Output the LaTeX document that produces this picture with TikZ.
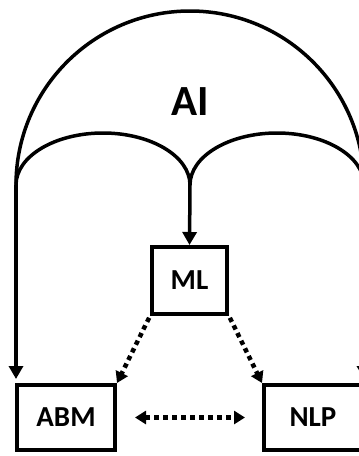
\documentclass[tikz,border=0pt]{standalone}
\usepackage{fontspec}
\setmainfont{Carlito}
\usetikzlibrary{arrows.meta}
\tikzset{
  boxnode/.style={draw, line width=4pt, font=\fontsize{29}{31}\selectfont\bfseries, inner sep=0pt},
  archline/.style={line width=3.5pt},
  solidarr/.style={line width=3.5pt, -{Triangle[width=14pt,length=13pt]}},
  dotarr/.style={line width=4.5pt, dash pattern=on 4.5pt off 4pt, -{Triangle[width=13pt,length=11pt]}},
  dotbiarr/.style={line width=4.5pt, dash pattern=on 4.5pt off 4.5pt, {Triangle[width=13pt,length=11pt]}-{Triangle[width=13pt,length=11pt]}}
}
\begin{document}
\begin{tikzpicture}[x=1pt,y=-1pt]
\useasboundingbox (0,0) rectangle (359,456);
\clip (0,0) rectangle (359,456);
\fill[white] (0,0) rectangle (359,456);

% boxes
\node[boxnode, minimum width=75pt, minimum height=67pt] (ML) at (189.5,280.5) {ML};
\node[boxnode, minimum width=98pt, minimum height=65pt] (ABM) at (66,417.5) {ABM};
\node[boxnode, minimum width=98pt, minimum height=65pt] (NLP) at (313,417.5) {NLP};

% arch junctions
\coordinate (L) at (16,185);
\coordinate (M) at (190,185);
\coordinate (R) at (364,185);

% big arch
\draw[archline] (L) arc[start angle=180, end angle=360, radius=174];
% inner arches
\draw[archline] (L) arc[start angle=180, end angle=360, x radius=87, y radius=52];
\draw[archline] (M) arc[start angle=180, end angle=360, x radius=87, y radius=52];

\node[font=\fontsize{43}{45}\selectfont\bfseries] (AI) at (190,102) {AI};

% solid arrows
\draw[solidarr] (M) -- (ML.north);
\draw[solidarr, shorten >=4pt] (L) -- (L |- ABM.north);
\draw[solidarr, shorten >=4pt] (R) -- (R |- NLP.north);

% dotted arrows
\draw[dotarr, shorten <=2pt] (ML.south west) -- (ABM.north east);
\draw[dotarr, shorten <=2pt] (ML.south east) -- (NLP.north west);
\draw[dotbiarr, shorten <=18pt, shorten >=17pt] (ABM.east) -- (NLP.west);
\end{tikzpicture}
\end{document}
